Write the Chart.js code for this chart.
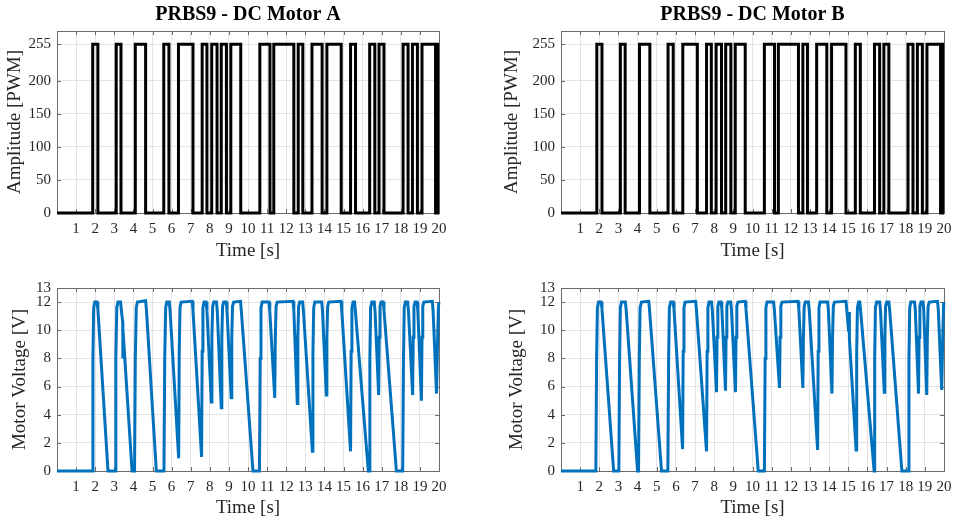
<!DOCTYPE html>
<html>
<head>
<meta charset="utf-8">
<title>PRBS9 - DC Motor A / B</title>
<script src="https://cdn.jsdelivr.net/npm/chart.js@4.4.0/dist/chart.umd.min.js"></script>
<style>
  html, body { margin: 0; padding: 0; background: #fff; }
  #wrap { position: relative; width: 960px; height: 521px; overflow: hidden; }
  #wrap canvas { position: absolute; }
</style>
</head>
<body>
<div id="wrap">
  <canvas id="pwm-a"  width="480" height="262" style="left:0;top:0;"></canvas>
  <canvas id="pwm-b"  width="480" height="262" style="left:480px;top:0;"></canvas>
  <canvas id="volt-a" width="480" height="259" style="left:0;top:262px;"></canvas>
  <canvas id="volt-b" width="480" height="259" style="left:480px;top:262px;"></canvas>
</div>
<script>
// axis ranges / ticks
const timeRange  = [0, 20];
const pwmRange   = [0, 275];
const pwmTicks   = [0, 50, 100, 150, 200, 255];
const voltRange  = [0, 13];
const voltTicks  = [0, 2, 4, 6, 8, 10, 12, 13];
const pwmLevels  = [0, 255];

// PRBS9 switching instants [s] (signal starts low), same sequence on both motors
const pwmEdges = [
  1.87, 2.14, 3.10, 3.35, 4.10, 4.64, 5.59, 5.86, 6.36, 7.12,
  7.60, 7.85, 8.10, 8.38, 8.60, 8.87, 9.10, 9.62, 10.62, 11.15,
  11.35, 12.40, 12.63, 12.87, 13.35, 13.88, 14.13, 14.88, 15.37, 15.63,
  16.37, 16.64, 16.86, 17.12, 18.12, 18.38, 18.61, 18.87, 19.11, 19.82,
  19.93
];

// measured motor voltage [t (s), V]
const voltageA = [
  [0, 0], [1.84, 0], [1.88, 8.0], [1.92, 11.6], [1.98, 12], [2.10, 12], [2.14, 11.5], [2.67, 0],
  [3.04, 0], [3.08, 8], [3.13, 11.6], [3.19, 12], [3.33, 12], [3.37, 11.4], [3.44, 10.6], [3.45, 8.0], [3.46, 9.9], [3.93, 0],
  [4.06, 0], [4.10, 8], [4.15, 11.6], [4.21, 12], [4.64, 12.1], [4.68, 11.5], [5.20, 0],
  [5.60, 0], [5.64, 8], [5.69, 11.6], [5.75, 12], [5.88, 12], [5.92, 11.4], [6.37, 0.9],
  [6.40, 8.5], [6.44, 11.6], [6.50, 12], [7.08, 12.05], [7.12, 11.4], [7.57, 1.0],
  [7.60, 8.5], [7.64, 11.6], [7.70, 12], [7.81, 12], [7.85, 11.4], [8.08, 4.9],
  [8.11, 9.5], [8.15, 11.7], [8.21, 12], [8.35, 12], [8.39, 11.4], [8.60, 4.5],
  [8.63, 9.5], [8.67, 11.7], [8.73, 12], [8.86, 12], [8.90, 11.4], [9.12, 5.2],
  [9.15, 9.5], [9.19, 11.7], [9.25, 12], [9.61, 12.05], [9.65, 11.4], [10.26, 0],
  [10.60, 0], [10.64, 8], [10.68, 11.6], [10.74, 12], [11.10, 12], [11.14, 11.4], [11.40, 5.2],
  [11.43, 9.5], [11.47, 11.7], [11.53, 12], [12.36, 12.05], [12.40, 11.4], [12.58, 4.8],
  [12.61, 9.5], [12.65, 11.7], [12.71, 12], [12.86, 12], [12.90, 11.4], [13.37, 1.4],
  [13.40, 8.5], [13.44, 11.6], [13.50, 12], [13.86, 12], [13.90, 11.4], [14.10, 5.4],
  [14.13, 9.5], [14.17, 11.7], [14.23, 12], [14.87, 12.05], [14.91, 11.4], [15.37, 1.4],
  [15.40, 8.5], [15.44, 11.6], [15.50, 12], [15.58, 12], [15.62, 11.4], [16.30, 0],
  [16.35, 0], [16.38, 8], [16.42, 11.6], [16.48, 12], [16.61, 12], [16.65, 11.4], [16.84, 5.4],
  [16.87, 9.5], [16.91, 11.7], [16.97, 12], [17.08, 12], [17.12, 11.4], [17.77, 0],
  [18.10, 0], [18.14, 8], [18.18, 11.6], [18.24, 12], [18.36, 12], [18.40, 11.4], [18.62, 5.4],
  [18.65, 9.5], [18.69, 11.7], [18.75, 12], [18.85, 12], [18.89, 11.4], [19.08, 5.0],
  [19.11, 9.5], [19.15, 11.7], [19.21, 12], [19.65, 12.05], [19.69, 11.4], [19.87, 5.5],
  [19.93, 9.5], [19.97, 11.7], [20, 12]
];

const voltageB = [
  [0, 0], [1.82, 0], [1.86, 8], [1.90, 11.6], [1.96, 12], [2.10, 12], [2.14, 11.5], [2.75, 0],
  [3.02, 0], [3.06, 8], [3.10, 11.6], [3.16, 12], [3.36, 12], [3.40, 11.5], [4.00, 0],
  [4.05, 0], [4.09, 8], [4.13, 11.6], [4.20, 12], [4.58, 12.05], [4.62, 11.5], [5.25, 0],
  [5.58, 0], [5.62, 8], [5.66, 11.6], [5.73, 12], [5.86, 12], [5.90, 11.5], [6.35, 1.56],
  [6.38, 8.5], [6.42, 11.6], [6.48, 12], [7.03, 12.05], [7.07, 11.5], [7.60, 1.4],
  [7.63, 8.5], [7.67, 11.6], [7.73, 12], [7.86, 12], [7.90, 11.5], [8.12, 5.6],
  [8.15, 9.5], [8.19, 11.7], [8.25, 12], [8.36, 12], [8.40, 11.5], [8.59, 5.7],
  [8.62, 9.5], [8.66, 11.7], [8.72, 12], [8.86, 12], [8.90, 11.5], [9.11, 5.6],
  [9.14, 9.5], [9.18, 11.7], [9.24, 12], [9.62, 12.05], [9.66, 11.5], [10.30, 0],
  [10.62, 0], [10.66, 8], [10.70, 11.6], [10.76, 12], [11.10, 12], [11.14, 11.5], [11.41, 5.9],
  [11.44, 9.5], [11.48, 11.7], [11.54, 12], [12.38, 12.05], [12.42, 11.5], [12.63, 5.9],
  [12.66, 9.5], [12.70, 11.7], [12.76, 12], [12.92, 12], [12.96, 11.5], [13.40, 1.5],
  [13.43, 8.5], [13.47, 11.6], [13.53, 12], [13.92, 12], [13.96, 11.5], [14.15, 5.5],
  [14.18, 9.5], [14.22, 11.7], [14.28, 12], [14.88, 12.05], [14.92, 11.5], [15.02, 9.9], [15.04, 11.3], [15.06, 9.4], [15.41, 1.5],
  [15.44, 8.5], [15.48, 11.6], [15.54, 12], [15.60, 12], [15.64, 11.5], [16.35, 0],
  [16.38, 8], [16.42, 11.6], [16.48, 12], [16.64, 12], [16.68, 11.5], [16.88, 5.6],
  [16.91, 9.5], [16.95, 11.7], [17.01, 12], [17.12, 12], [17.16, 11.5], [17.80, 0],
  [18.13, 0], [18.17, 8], [18.21, 11.6], [18.27, 12], [18.46, 12], [18.50, 11.5], [18.67, 5.5],
  [18.70, 9.5], [18.74, 11.7], [18.80, 12], [18.90, 12], [18.94, 11.5], [19.10, 5.4],
  [19.13, 9.5], [19.17, 11.7], [19.23, 12], [19.66, 12.05], [19.70, 11.5], [19.88, 5.75],
  [19.94, 9.8], [19.98, 11.8], [20, 12]
];

const SERIF = '"Liberation Serif", "Times New Roman", serif';
const TEXT = '#262626';
const GRID = '#e4e4e4';
const BOX  = '#6a6a6a';

// square wave from the switching instants
function pwmPoints(edges) {
  const pts = [{ x: timeRange[0], y: pwmLevels[0] }];
  edges.forEach((t, i) => {
    pts.push({ x: t, y: pwmLevels[i % 2] });
    pts.push({ x: t, y: pwmLevels[(i + 1) % 2] });
  });
  pts.push({ x: timeRange[1], y: pwmLevels[edges.length % 2] });
  return pts;
}

// matlab-like box with inward ticks
const axesBox = {
  id: 'axesBox',
  beforeDatasetsDraw(chart) {
    const { ctx, chartArea: a, scales: { x, y } } = chart;
    ctx.save();
    ctx.strokeStyle = BOX;
    ctx.lineWidth = 1;
    ctx.beginPath();
    x.ticks.forEach(t => {
      const px = Math.round(x.getPixelForValue(t.value)) + 0.5;
      ctx.moveTo(px, a.bottom); ctx.lineTo(px, a.bottom - 4);
      ctx.moveTo(px, a.top);    ctx.lineTo(px, a.top + 4);
    });
    y.ticks.forEach(t => {
      const py = Math.round(y.getPixelForValue(t.value)) + 0.5;
      ctx.moveTo(a.left, py);  ctx.lineTo(a.left + 4, py);
      ctx.moveTo(a.right, py); ctx.lineTo(a.right - 4, py);
    });
    ctx.stroke();
    ctx.strokeRect(Math.round(a.left) + 0.5, Math.round(a.top) + 0.5,
                   Math.round(a.width), Math.round(a.height));
    ctx.restore();
  }
};

function makeChart(id, o) {
  return new Chart(document.getElementById(id), {
    type: 'line',
    data: {
      datasets: [{
        data: o.points,
        borderColor: o.color,
        borderWidth: 3,
        pointRadius: 0,
        tension: 0,
        clip: false,
      }],
    },
    options: {
      responsive: false,
      animation: false,
      events: [],
      layout: { padding: o.padding },
      plugins: {
        legend: { display: false },
        tooltip: { enabled: false },
        title: o.title ? {
          display: true,
          text: o.title,
          fullSize: false,
          color: '#000',
          font: { family: SERIF, size: 20, weight: 'bold' },
          padding: { top: 3, bottom: 4 },
        } : { display: false },
      },
      scales: {
        x: {
          type: 'linear',
          min: timeRange[0],
          max: timeRange[1],
          afterFit: (axis) => { axis.height = o.xHeight; },
          grid: { color: GRID, drawTicks: false },
          border: { display: false },
          ticks: {
            stepSize: 1, autoSkip: false, maxRotation: 0, padding: 7,
            color: TEXT, font: { family: SERIF, size: 15 },
            callback: (v) => (v === 0 ? '' : v),
          },
          title: {
            display: true, text: 'Time [s]', color: TEXT,
            font: { family: SERIF, size: 19 },
            padding: { top: 0, bottom: o.xTitlePad },
          },
        },
        y: {
          type: 'linear',
          min: o.yRange[0],
          max: o.yRange[1],
          afterBuildTicks: (axis) => { axis.ticks = o.yTicks.map(v => ({ value: v })); },
          afterFit: (axis) => { axis.width = o.yWidth; },
          grid: { color: GRID, drawTicks: false },
          border: { display: false },
          ticks: { padding: 6, color: TEXT, font: { family: SERIF, size: 15 } },
          title: {
            display: true, text: o.yTitle, color: TEXT,
            font: { family: SERIF, size: 19 },
            padding: { top: o.yTitlePad, bottom: 0 },
          },
        },
      },
    },
    plugins: [axesBox],
  });
}

const pwmPts = pwmPoints(pwmEdges);
const toXY = (arr) => arr.map(([x, y]) => ({ x, y }));

makeChart('pwm-a', {
  points: pwmPts, color: '#000', title: 'PRBS9 - DC Motor A',
  padding: { left: 0, right: 41, top: 0, bottom: 0 },
  xHeight: 49, xTitlePad: 0, yWidth: 57, yTitlePad: 4,
  yRange: pwmRange, yTicks: pwmTicks, yTitle: 'Amplitude [PWM]',
});
makeChart('pwm-b', {
  points: pwmPts, color: '#000', title: 'PRBS9 - DC Motor B',
  padding: { left: 0, right: 16, top: 0, bottom: 0 },
  xHeight: 49, xTitlePad: 0, yWidth: 81, yTitlePad: 21,
  yRange: pwmRange, yTicks: pwmTicks, yTitle: 'Amplitude [PWM]',
});
makeChart('volt-a', {
  points: toXY(voltageA), color: '#0072BD', title: null,
  padding: { left: 0, right: 41, top: 26, bottom: 0 },
  xHeight: 50, xTitlePad: 2, yWidth: 57, yTitlePad: 9,
  yRange: voltRange, yTicks: voltTicks, yTitle: 'Motor Voltage [V]',
});
makeChart('volt-b', {
  points: toXY(voltageB), color: '#0072BD', title: null,
  padding: { left: 0, right: 16, top: 26, bottom: 0 },
  xHeight: 50, xTitlePad: 2, yWidth: 81, yTitlePad: 26,
  yRange: voltRange, yTicks: voltTicks, yTitle: 'Motor Voltage [V]',
});
</script>
</body>
</html>
